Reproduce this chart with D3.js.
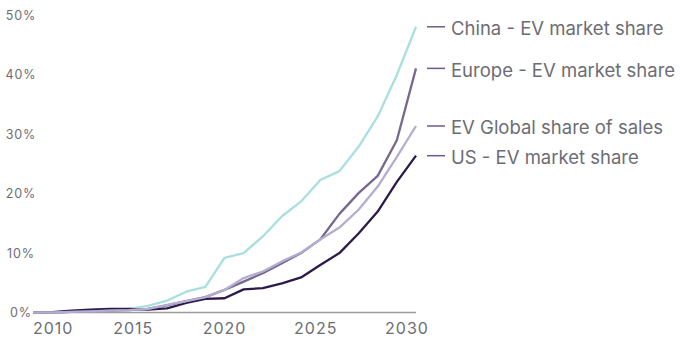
<!DOCTYPE html>
<html>
<head>
<meta charset="utf-8">
<script src="https://cdn.jsdelivr.net/npm/d3@7"></script>
<style>
  html, body { margin: 0; padding: 0; background: #fff; }
  svg text { font-family: Inter, "Open Sans", "DejaVu Sans", sans-serif; fill: #6c6d74; }
</style>
</head>
<body>
<svg id="chart" width="680" height="338"></svg>
<script>
// EV market share by region, actuals and outlook to 2030 (%)
const years = d3.range(2010, 2031);
const china  = [0, 0, 0.1, 0.2, 0.3, 0.6, 1.1, 2.0, 3.5, 4.3, 9.2, 10.0, 12.8, 16.2, 18.7, 22.3, 23.8, 27.9, 33.0, 40.0, 48.1];
const europe = [0, 0, 0.1, 0.2, 0.3, 0.4, 0.6, 1.2, 1.9, 2.6, 3.8, 5.2, 6.6, 8.3, 10.0, 12.3, 16.6, 20.1, 23.0, 29.0, 41.1];
const global = [0, 0, 0.1, 0.2, 0.3, 0.4, 0.6, 1.3, 1.9, 2.6, 3.8, 5.8, 6.9, 8.6, 10.1, 12.3, 14.3, 17.3, 21.2, 26.2, 31.4];
const us     = [0, 0.05, 0.3, 0.5, 0.6, 0.6, 0.5, 0.7, 1.6, 2.3, 2.4, 3.9, 4.1, 4.9, 5.9, 8.0, 10.0, 13.3, 17.0, 22.0, 26.4];
const yTicks = [0, 10, 20, 30, 40, 50];
const xTicks = [2010, 2015, 2020, 2025, 2030];

const seriesNames  = ["China - EV market share", "Europe - EV market share", "EV Global share of sales", "US - EV market share"];
const seriesValues = [china, europe, global, us];
const seriesColors = ["#a9dfdd", "#77688f", "#b4add2", "#2c1a4a"];
const drawOrder = [0, 3, 1, 2];

const svg = d3.select("#chart");
const plotL = 33, plotR = 416, plotT = 15.5, plotB = 312.5;

const x = d3.scaleLinear().domain([2010, 2030]).range([plotL, plotR]);
const y = d3.scaleLinear().domain([0, 50]).range([plotB, plotT]);
// tick labels sit on a slightly narrower band than the plotted points
const xLab = d3.scaleLinear().domain([2015, 2030]).range([133.3, 407]);

// y axis labels
svg.append("g").selectAll("text").data(yTicks).join("text")
  .attr("x", 21).attr("y", d => y(d) + 4.5)
  .attr("text-anchor", "middle")
  .style("font-size", "12.5px")
  .style("letter-spacing", "0.9px")
  .text(d => d + "%");

// baseline
svg.append("line")
  .attr("x1", x(2010)).attr("x2", x(2030))
  .attr("y1", y(0)).attr("y2", y(0))
  .attr("stroke", "#9c9c9f").attr("stroke-width", 1.5);

// x axis labels
const xl = svg.append("g").selectAll("text").data(xTicks).join("text")
  .attr("y", 334)
  .style("font-size", "16px")
  .style("letter-spacing", "1px")
  .text(d => d);
xl.each(function(d) {
  const w = this.getComputedTextLength();
  const lx = Math.max(xLab(d) - w / 2, plotL);
  d3.select(this).attr("x", lx);
});

// series lines
const line = d3.line().x((d, i) => x(years[i])).y(d => y(d));
svg.append("g").selectAll("path").data(drawOrder).join("path")
  .attr("d", k => line(seriesValues[k]))
  .attr("fill", "none")
  .attr("stroke", k => seriesColors[k])
  .attr("stroke-width", 2.3)
  .attr("stroke-linejoin", "round");

// end-of-line legend
const leg = svg.append("g").selectAll("g").data(d3.range(seriesNames.length)).join("g")
  .attr("transform", k => `translate(0,${y(seriesValues[k][seriesValues[k].length - 1])})`);
leg.append("line")
  .attr("x1", 427).attr("x2", 445).attr("y1", 0).attr("y2", 0)
  .attr("stroke", "#6a5c86").attr("stroke-width", 1.5);
leg.append("text")
  .attr("x", 451).attr("y", 8.3)
  .style("font-size", "18.5px")
  .text(k => seriesNames[k]);
</script>
</body>
</html>
